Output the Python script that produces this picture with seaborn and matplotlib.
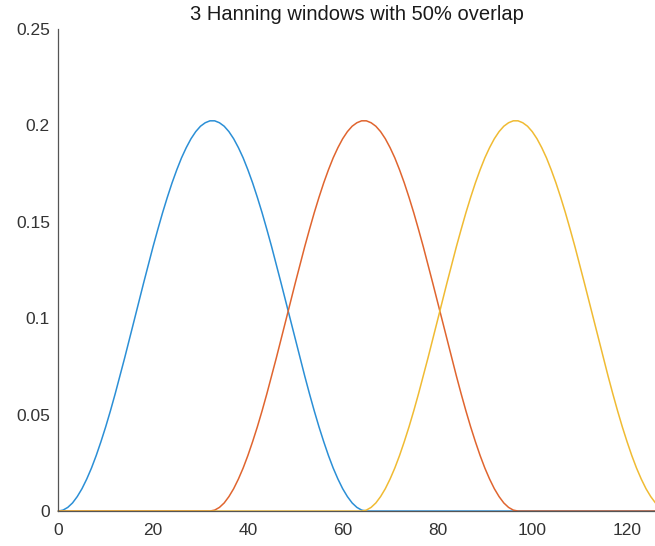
import matplotlib
matplotlib.use("Agg")
import numpy as np
import pandas as pd
import matplotlib.pyplot as plt
import seaborn as sns

# Samples of one Hanning window (64 points)
window_shape = [
    0.0005, 0.0019, 0.0042, 0.0075, 0.0116, 0.0166, 0.0223, 0.0288,
    0.0360, 0.0437, 0.0520, 0.0608, 0.0700, 0.0794, 0.0890, 0.0988,
    0.1086, 0.1183, 0.1278, 0.1372, 0.1461, 0.1547, 0.1627, 0.1702,
    0.1770, 0.1832, 0.1885, 0.1931, 0.1968, 0.1996, 0.2014, 0.2024,
    0.2024, 0.2014, 0.1996, 0.1968, 0.1931, 0.1885, 0.1832, 0.1770,
    0.1702, 0.1627, 0.1547, 0.1461, 0.1372, 0.1278, 0.1183, 0.1086,
    0.0988, 0.0890, 0.0794, 0.0700, 0.0608, 0.0520, 0.0437, 0.0360,
    0.0288, 0.0223, 0.0166, 0.0116, 0.0075, 0.0042, 0.0019, 0.0005,
]
# First sample index of each window (hop of half a window -> 50% overlap)
window_starts = [1, 33, 65]
window_names = ["Window 1", "Window 2", "Window 3"]
window_colors = ["#2b8fd6", "#e0652f", "#f0bb33"]
n_samples = 129

x_ticks = [0, 20, 40, 60, 80, 100, 120]
y_ticks = [0, 0.05, 0.1, 0.15, 0.2, 0.25]
y_tick_labels = ["0", "0.05", "0.1", "0.15", "0.2", "0.25"]
title_text = "3 Hanning windows with 50% overlap"

# Long table: one row per (window, sample)
rows = []
samples = np.arange(n_samples)
for name, start in zip(window_names, window_starts):
    amp = np.zeros(n_samples)
    amp[start:start + len(window_shape)] = window_shape
    rows.append(pd.DataFrame({"sample": samples, "amplitude": amp, "window": name}))
df = pd.concat(rows, ignore_index=True)

sns.set_theme(style="white")
plt.rcParams["font.family"] = ["Liberation Sans", "DejaVu Sans"]

fig = plt.figure(figsize=(6.55, 5.46), dpi=100)
ax = fig.add_axes([0.089, 0.064, 0.911, 0.8828])

sns.lineplot(data=df, x="sample", y="amplitude", hue="window",
             hue_order=window_names, palette=window_colors,
             linewidth=1.1, legend=False, ax=ax)
for line in ax.lines:
    line.set_clip_on(False)

ax.set_xlim(0, 125.9)
ax.set_ylim(0, 0.25)
ax.set_xticks(x_ticks)
ax.set_xticklabels([str(t) for t in x_ticks])
ax.set_yticks(y_ticks)
ax.set_yticklabels(y_tick_labels)
ax.set_xlabel("")
ax.set_ylabel("")

axis_color = "#555555"
for side in ["top", "right"]:
    ax.spines[side].set_visible(False)
for side in ["left", "bottom"]:
    ax.spines[side].set_color(axis_color)
    ax.spines[side].set_linewidth(0.9)

ax.tick_params(axis="both", direction="in", length=3.5, width=0.8,
               color=axis_color, labelcolor="#333333", labelsize=12.5)
ax.tick_params(axis="x", pad=8.5)
ax.tick_params(axis="y", pad=6)

ax.set_title(title_text, fontsize=14.5, color="#1a1a1a", pad=6.5)

fig.savefig("out.png", dpi=100)
